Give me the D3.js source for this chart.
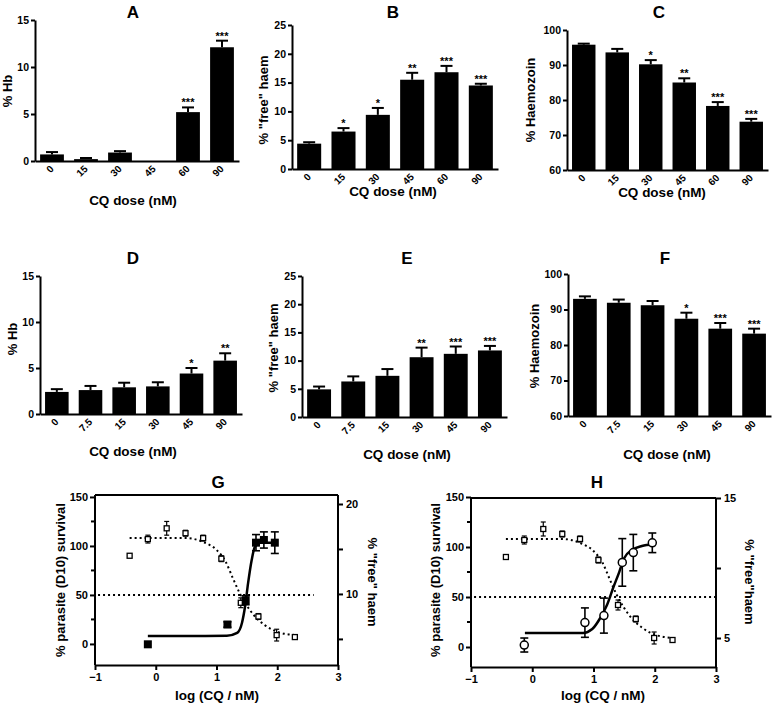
<!DOCTYPE html>
<html><head><meta charset="utf-8">
<script src="https://cdn.jsdelivr.net/npm/d3@7"></script>
<style>
body{margin:0;background:#fff;}
svg{display:block;font-family:"Liberation Sans",Arial,sans-serif;font-weight:bold;}
</style></head><body>
<svg id="c" width="778" height="708"></svg>
<script>
// ---------- data ----------
const dosesABC = ["0","15","30","45","60","90"];
const dosesDEF = ["0","7.5","15","30","45","90"];

const hbA = [0.7, 0.2, 0.9, 0, 5.2, 12.1];
const hbAErr = [0.25, 0.12, 0.15, 0, 0.5, 0.7];
const hbASig = ["","","","","***","***"];

const haemB = [4.4, 6.5, 9.4, 15.5, 16.8, 14.5];
const haemBErr = [0.25, 0.6, 1.2, 1.2, 1.1, 0.3];
const haemBSig = ["","*","*","**","***","***"];

const hzC = [95.8, 93.6, 90.2, 85.0, 78.3, 73.8];
const hzCErr = [0.3, 1.0, 1.2, 1.2, 1.1, 0.8];
const hzCSig = ["","","*","**","***","***"];

const hbD = [2.4, 2.6, 2.9, 3.0, 4.4, 5.8];
const hbDErr = [0.3, 0.45, 0.5, 0.45, 0.6, 0.8];
const hbDSig = ["","","","","*","**"];

const haemE = [4.9, 6.3, 7.3, 10.6, 11.2, 11.8];
const haemEErr = [0.5, 0.9, 1.2, 1.7, 1.3, 0.8];
const haemESig = ["","","","**","***","***"];

const hzF = [93.0, 91.9, 91.2, 87.4, 84.6, 83.2];
const hzFErr = [0.7, 0.9, 1.2, 1.7, 1.6, 1.4];
const hzFSig = ["","","","*","***","***"];

const ticksHb = [0,5,10,15];
const ticksHaem = [0,5,10,15,20,25];
const ticksHz = [60,70,80,90,100];

// parasite survival (open squares, left axis) shared by G and H
const survLog = [-0.43, -0.13, 0.18, 0.49, 0.78, 1.08, 1.40, 1.69, 1.99, 2.29];
const survPct = [90, 107, 118, 113, 108, 87, 42, 28, 9, 7];
const survErr = [0, 4, 7, 3, 3, 3, 5, 3, 6, 1];
const survCurveLog = [-0.43, 0.5, 0.78, 1.0, 1.15, 1.27, 1.38, 1.49, 1.62, 1.8, 2.02, 2.3];
const survCurvePct = [108, 108, 104, 96, 84, 67, 52, 40, 29, 19, 12, 9];

// G free haem (filled squares, right axis)
const haemGLog = [-0.13, 1.18, 1.48, 1.65, 1.78, 1.96];
const haemGVal = [4.4, 6.6, 9.3, 15.7, 16.0, 15.7];
const haemGErr = [0, 0.3, 0.5, 0.9, 0.9, 1.2];
const haemGCurveLog = [-0.13, 0.6, 1.17, 1.34, 1.42, 1.47, 1.52, 1.58, 1.63, 1.72, 2.0];
const haemGCurveVal = [5.33, 5.33, 5.35, 5.67, 6.8, 8.6, 11.2, 13.8, 15.2, 15.7, 15.7];

// H free haem (open circles, right axis)
const haemHLog = [-0.13, 0.86, 1.17, 1.47, 1.65, 1.96];
const haemHVal = [4.5, 6.1, 6.6, 10.4, 11.1, 11.8];
const haemHErr = [0.5, 1.05, 1.25, 1.7, 1.3, 0.7];
const haemHCurveLog = [-0.12, 0.83, 0.98, 1.11, 1.22, 1.32, 1.42, 1.5, 1.63, 1.79, 1.97];
const haemHCurveVal = [5.36, 5.36, 5.64, 6.43, 7.36, 8.57, 9.71, 10.7, 11.29, 11.57, 11.7];

const logTicks = [-1,0,1,2,3];
const survTicks = [0,50,100,150];
const survMinor = [25,75,125];

// ---------- drawing ----------
const svg = d3.select("#c");

function styleAxis(sel, fs){
  sel.attr("font-family", null).attr("font-size", null);
  sel.select(".domain").attr("stroke","#000").attr("stroke-width",2);
  sel.selectAll(".tick line").attr("stroke","#000").attr("stroke-width",2);
  sel.selectAll(".tick text").attr("fill","#000").style("font-size", fs+"px").style("font-weight","bold");
}

function barPanel(c, doses, vals, errs, sigs){
  const g = svg.append("g");
  const x = d3.scaleBand().domain(doses).range([c.x0, c.x1]).paddingInner(0.3).paddingOuter(0.15);
  const y = d3.scaleLinear().domain(c.dom).range([c.yb, c.yt]);
  const data = doses.map((d,i)=>({d, v:vals[i], e:errs[i], s:sigs[i]}));
  const bw = x.bandwidth();
  g.selectAll("rect.bar").data(data.filter(o=>o.v>c.dom[0])).join("rect")
    .attr("x", o=>x(o.d)).attr("y", o=>y(o.v)).attr("width", bw)
    .attr("height", o=>c.yb - y(o.v)).attr("fill","#000");
  const eb = data.filter(o=>o.e>0);
  g.selectAll("line.err").data(eb).join("line")
    .attr("x1", o=>x(o.d)+bw/2).attr("x2", o=>x(o.d)+bw/2)
    .attr("y1", o=>y(o.v)).attr("y2", o=>y(o.v+o.e)).attr("stroke","#000").attr("stroke-width",2);
  g.selectAll("line.cap").data(eb).join("line")
    .attr("x1", o=>x(o.d)+bw/2-6).attr("x2", o=>x(o.d)+bw/2+6)
    .attr("y1", o=>y(o.v+o.e)).attr("y2", o=>y(o.v+o.e)).attr("stroke","#000").attr("stroke-width",2);
  g.selectAll("text.sig").data(data.filter(o=>o.s)).join("text")
    .attr("x", o=>x(o.d)+bw/2).attr("y", o=>y(o.v+o.e)-1)
    .attr("text-anchor","middle").style("font-size","11px").text(o=>o.s);
  const ya = g.append("g").attr("transform",`translate(${c.x0},0)`)
    .call(d3.axisLeft(y).tickValues(c.ticks).tickSize(4).tickSizeOuter(0).tickPadding(2));
  styleAxis(ya, 10.5);
  const xa = g.append("g").attr("transform",`translate(0,${c.yb})`)
    .call(d3.axisBottom(x).tickSize(0).tickSizeOuter(0).tickFormat(""));
  styleAxis(xa, 10.5);
  g.selectAll("text.xt").data(doses).join("text")
    .attr("transform", d=>`translate(${x(d)+bw/2},${c.yb+6}) rotate(-45)`)
    .attr("dy","0.35em").attr("text-anchor","end").style("font-size","10px").text(d=>d);
  g.append("text").attr("x",c.tx).attr("y",c.ty).attr("text-anchor","middle").style("font-size","17px").text(c.title);
  g.append("text").attr("transform",`translate(${c.ylx},${c.yly}) rotate(-90)`).attr("text-anchor","middle")
    .style("font-size","13px").text(c.ylab);
  g.append("text").attr("x",c.xlx).attr("y",c.xly).attr("text-anchor","middle").style("font-size","13.5px").text("CQ dose (nM)");
}

barPanel({x0:35,x1:239,yb:161,yt:20,dom:[0,15],ticks:ticksHb,title:"A",tx:133,ty:18,ylab:"% Hb",ylx:12,yly:91,xlx:133,xly:205}, dosesABC, hbA, hbAErr, hbASig);
barPanel({x0:292,x1:498,yb:169,yt:25,dom:[0,25],ticks:ticksHaem,title:"B",tx:393,ty:18,ylab:'% "free" haem',ylx:268,yly:100,xlx:393,xly:196}, dosesABC, haemB, haemBErr, haemBSig);
barPanel({x0:567,x1:768,yb:170,yt:30,dom:[60,100],ticks:ticksHz,title:"C",tx:659,ty:18,ylab:"% Haemozoin",ylx:535,yly:100,xlx:662,xly:197}, dosesABC, hzC, hzCErr, hzCSig);
barPanel({x0:40,x1:242,yb:414,yt:276,dom:[0,15],ticks:ticksHb,title:"D",tx:133,ty:264,ylab:"% Hb",ylx:17,yly:339,xlx:133,xly:456}, dosesDEF, hbD, hbDErr, hbDSig);
barPanel({x0:302,x1:507,yb:417,yt:276,dom:[0,25],ticks:ticksHaem,title:"E",tx:407,ty:264,ylab:'% "free" haem',ylx:278,yly:348,xlx:407,xly:459}, dosesDEF, haemE, haemEErr, haemESig);
barPanel({x0:568,x1:771,yb:416,yt:274,dom:[60,100],ticks:ticksHz,title:"F",tx:665,ty:264,ylab:"% Haemozoin",ylx:539,yly:346,xlx:667,xly:459}, dosesDEF, hzF, hzFErr, hzFSig);

function curvePanel(c){
  const g = svg.append("g");
  const x = d3.scaleLinear().domain([-1,3]).range([c.x0,c.x1]);
  const yL = d3.scaleLinear().domain(c.lDom).range([c.yb,c.yt]);
  const yR = d3.scaleLinear().domain(c.rDom).range([c.yb,c.yt]);
  g.append("line").attr("x1",c.x0).attr("x2",c.x1).attr("y1",c.yt).attr("y2",c.yt).attr("stroke","#000").attr("stroke-width",2);
  const la = g.append("g").attr("transform",`translate(${c.x0},0)`)
    .call(d3.axisLeft(yL).tickValues(survTicks).tickSize(5).tickSizeOuter(0).tickPadding(2));
  styleAxis(la, 11);
  la.select(".domain").attr("d",`M0,${c.yb}V${c.yt}`);
  g.selectAll("line.minor").data(survMinor).join("line")
    .attr("x1",c.x0-4).attr("x2",c.x0).attr("y1",d=>yL(d)).attr("y2",d=>yL(d)).attr("stroke","#000").attr("stroke-width",2);
  const ra = g.append("g").attr("transform",`translate(${c.x1},0)`)
    .call(d3.axisRight(yR).tickValues(c.rTicks).tickFormat(d=>c.rLab.includes(d)?d:"").tickSize(5).tickSizeOuter(0).tickPadding(3));
  styleAxis(ra, 11);
  ra.select(".domain").attr("d",`M0,${c.yb}V${c.yt}`);
  const xa = g.append("g").attr("transform",`translate(0,${c.yb})`)
    .call(d3.axisBottom(x).tickValues(logTicks).tickSize(5).tickSizeOuter(0).tickPadding(3).tickFormat(d3.format("d")));
  styleAxis(xa, 11);
  g.append("line").attr("x1",x(c.half[0])).attr("x2",x(c.half[1])).attr("y1",yL(50)).attr("y2",yL(50))
    .attr("stroke","#000").attr("stroke-width",2).attr("stroke-dasharray","2,3");
  const lineL = d3.line().x(d=>x(d[0])).y(d=>yL(d[1])).curve(d3.curveMonotoneX);
  g.append("path").attr("d", lineL(survCurveLog.map((v,i)=>[v,survCurvePct[i]])))
    .attr("fill","none").attr("stroke","#000").attr("stroke-width",2).attr("stroke-dasharray","2,3");
  const lineR = d3.line().x(d=>x(d[0])).y(d=>yR(d[1])).curve(d3.curveMonotoneX);
  g.append("path").attr("d", lineR(c.cLog.map((v,i)=>[v,c.cVal[i]])))
    .attr("fill","none").attr("stroke","#000").attr("stroke-width",2.5);
  const sp = survLog.map((v,i)=>({x:v,y:survPct[i],e:survErr[i]}));
  const spE = sp.filter(d=>d.e>0);
  g.selectAll("line.se").data(spE).join("line").attr("x1",d=>x(d.x)).attr("x2",d=>x(d.x))
    .attr("y1",d=>yL(d.y-d.e)).attr("y2",d=>yL(d.y+d.e)).attr("stroke","#000").attr("stroke-width",1.2);
  [-1,1].forEach(s=>{
    g.selectAll("line.sc"+(s>0?"p":"m")).data(spE).join("line").attr("x1",d=>x(d.x)-2.5).attr("x2",d=>x(d.x)+2.5)
      .attr("y1",d=>yL(d.y+s*d.e)).attr("y2",d=>yL(d.y+s*d.e)).attr("stroke","#000").attr("stroke-width",1.2);
  });
  g.selectAll("rect.sp").data(sp).join("rect").attr("x",d=>x(d.x)-2.5).attr("y",d=>yL(d.y)-2.5)
    .attr("width",5).attr("height",5).attr("fill","#fff").attr("stroke","#000").attr("stroke-width",1.3);
  const hp = c.pLog.map((v,i)=>({x:v,y:c.pVal[i],e:c.pErr[i]}));
  const hpE = hp.filter(d=>d.e>0);
  g.selectAll("line.he").data(hpE).join("line").attr("x1",d=>x(d.x)).attr("x2",d=>x(d.x))
    .attr("y1",d=>yR(d.y-d.e)).attr("y2",d=>yR(d.y+d.e)).attr("stroke","#000").attr("stroke-width",1.6);
  [-1,1].forEach(s=>{
    g.selectAll("line.hc"+(s>0?"p":"m")).data(hpE).join("line").attr("x1",d=>x(d.x)-4).attr("x2",d=>x(d.x)+4)
      .attr("y1",d=>yR(d.y+s*d.e)).attr("y2",d=>yR(d.y+s*d.e)).attr("stroke","#000").attr("stroke-width",1.6);
  });
  if(c.marker==="square"){
    g.selectAll("rect.hp").data(hp).join("rect").attr("x",d=>x(d.x)-4).attr("y",d=>yR(d.y)-4)
      .attr("width",8).attr("height",8).attr("fill","#000");
  } else {
    g.selectAll("circle.hp").data(hp).join("circle").attr("cx",d=>x(d.x)).attr("cy",d=>yR(d.y)).attr("r",4)
      .attr("fill","#fff").attr("stroke","#000").attr("stroke-width",1.5);
  }
  g.append("text").attr("x",c.tx).attr("y",488).attr("text-anchor","middle").style("font-size","17px").text(c.title);
  g.append("text").attr("x",c.xlx).attr("y",700).attr("text-anchor","middle").style("font-size","13.5px").text("log (CQ / nM)");
  g.append("text").attr("transform",`translate(${c.llx},580) rotate(-90)`).attr("text-anchor","middle")
    .style("font-size","13px").text("% parasite (D10) survival");
  g.append("text").attr("transform",`translate(${c.rlx},582) rotate(90)`).attr("text-anchor","middle")
    .style("font-size","13px").text(c.rlab);
}

curvePanel({x0:95,x1:338,yt:495,yb:665,lDom:[-21.5,152],rDom:[2.1,21],rTicks:[5,10,15,20],rLab:[10,20],
  half:[-0.95,2.6],cLog:haemGCurveLog,cVal:haemGCurveVal,pLog:haemGLog,pVal:haemGVal,pErr:haemGErr,marker:"square",
  title:"G",tx:218,xlx:217,llx:65,rlx:368,rlab:'% "free" haem'});
curvePanel({x0:471,x1:716,yt:498,yb:667,lDom:[-20,149],rDom:[2.93,15],rTicks:[5,10,15],rLab:[5,15],
  half:[-0.95,3],cLog:haemHCurveLog,cVal:haemHCurveVal,pLog:haemHLog,pVal:haemHVal,pErr:haemHErr,marker:"circle",
  title:"H",tx:597,xlx:603,llx:440,rlx:745,rlab:'% "free"haem'});
</script></body></html>
